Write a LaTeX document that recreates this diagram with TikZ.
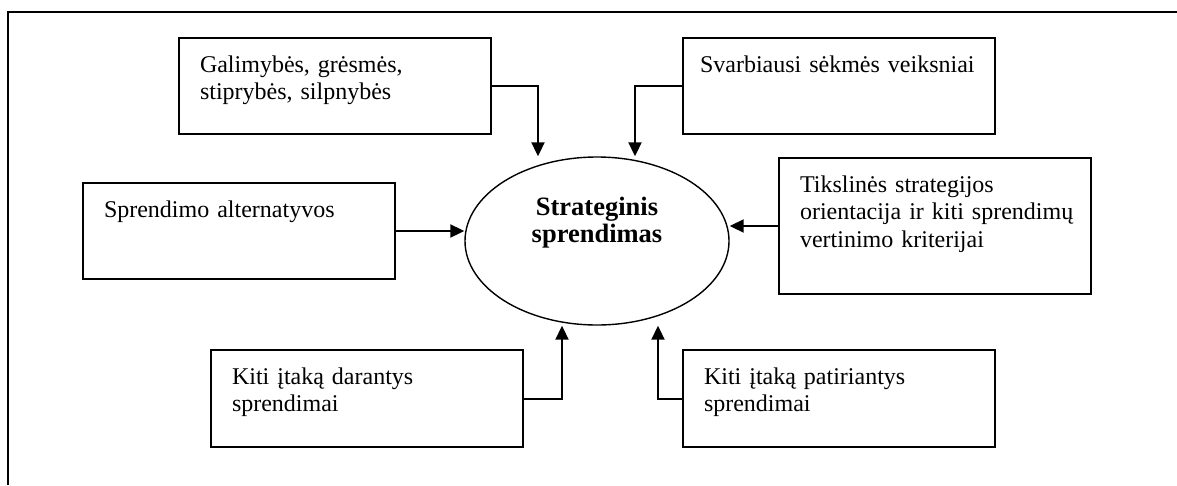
\documentclass[tikz,border=0pt]{standalone}
\usepackage{fontspec}
\setmainfont{Liberation Serif}
\usetikzlibrary{shapes.geometric, arrows.meta, positioning}

\tikzset{
  factor/.style={draw, line width=2pt, anchor=north west, inner xsep=21pt, inner ysep=0pt,
    text width=270pt, align=left, text height=34pt, text depth=62pt,
    font=\fontsize{24}{27.6}\selectfont},
  decision/.style={draw, ellipse, line width=1.4pt, minimum width=264pt, minimum height=168pt, inner sep=0pt},
  flow/.style={line width=2pt, -{Triangle[length=14pt, width=13pt]}},
  frame/.style={line width=2pt}
}

\begin{document}
\begin{tikzpicture}[x=1pt, y=-1pt]
\useasboundingbox (0,0) rectangle (1177,485);
\draw[frame] (8,485) |- (1177,12);

% Decision
\node[decision] (sd) at (597,241) {};
\node[font=\fontsize{26.5}{27}\selectfont\bfseries, align=center] (sdtext) at ([yshift=18.5pt]sd.center) {Strateginis\\sprendimas};

% Factors
\node[factor] (swot) at (178,37) {Galimybės, grėsmės,\\ stiprybės, silpnybės};
\node[factor, inner xsep=17pt, text width=278pt] (ksf) at (682,37) {Svarbiausi sėkmės veiksniai};
\node[factor] (alt) at (82,182) {Sprendimo alternatyvos};
\node[factor, text depth=102pt] (crit) at (778,157) {Tikslinės strategijos\\ \mbox{orientacija ir kiti sprendimų}\\ vertinimo kriterijai};
\node[factor, text depth=63pt] (infl) at (210,349) {Kiti įtaką darantys\\ sprendimai};
\node[factor, text depth=63pt] (dep) at (682,349) {Kiti įtaką patiriantys\\ sprendimai};

% Arrows
\draw[flow] (swot.east) -| ([xshift=-59pt]sd.north);
\draw[flow] (ksf.west) -| ([xshift=38pt]sd.north);
\draw[flow] (alt.east) -- (alt.east -| sd.west);
\draw[flow] (crit.west) -- (crit.west -| sd.east);
\draw[flow] (infl.east) -| ([xshift=-35pt]sd.south);
\draw[flow] (dep.west) -| ([xshift=61pt]sd.south);
\end{tikzpicture}
\end{document}
